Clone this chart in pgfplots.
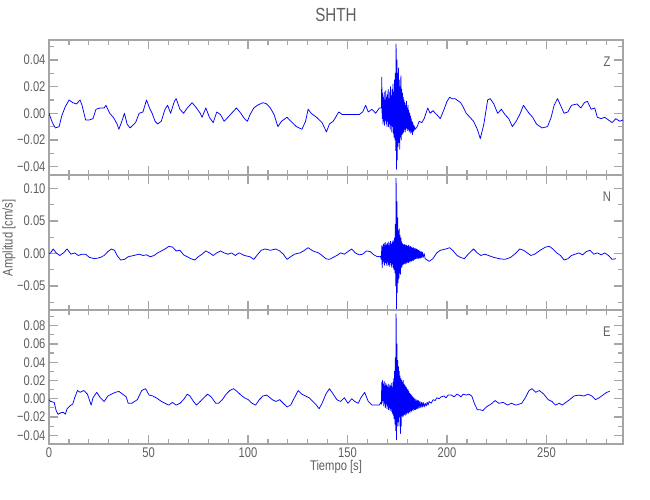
\documentclass[border=0pt]{standalone}
\usepackage{fontspec}
\setmainfont{Liberation Sans}[FakeStretch=0.8]
\usepackage{pgfplots}
\pgfplotsset{compat=1.18}
\definecolor{axgray}{RGB}{165,165,165}
\definecolor{txtgray}{RGB}{95,95,95}
\definecolor{trace}{RGB}{0,0,255}
\pgfplotsset{seis/.style={
  scale only axis, width=574pt, height=135pt, anchor=south west,
  xmin=0, xmax=288.4, no markers, scaled y ticks=false, scaled x ticks=false,
  xtick={0,50,100,150,200,250},
  minor xtick={10,20,30,40,60,70,80,90,110,120,130,140,160,170,180,190,210,220,230,240,260,270,280},
  axis line style={axgray, line width=1.5pt},
  tick style={axgray, line width=1.2pt},
  major tick length=9pt, minor tick length=5pt,
  tick align=inside,
  ticklabel style={font=\fontsize{14}{14}\selectfont, text=txtgray},
  xticklabels={},
  every axis plot/.append style={trace, line width=0.75pt, line join=round, mark=none},
}}
\begin{document}
\begin{tikzpicture}
\path[use as bounding box] (0,0) rectangle (650pt,500pt);
% ---------------- Z ----------------
\begin{axis}[seis, at={(49pt,325pt)}, height=135pt,
  ymin=-0.0463, ymax=0.055,
  ytick={-0.04,-0.02,0,0.02,0.04}, yticklabels={−0.04,−0.02,0.00,0.02,0.04},
  minor ytick={-0.03,-0.01,0.01,0.03,0.05}]
\addplot coordinates {
(0,0.000)(1.7,-0.007)(3.2,-0.011)(5.1,-0.010)(6.4,-0.002)(8.2,0.005)(10.1,0.010)(11.9,0.008)(13.8,0.007)(15.6,0.010)(16.6,0.006)(18.4,-0.005)(20.3,-0.005)(22.1,-0.004)(23.6,0.003)(25.8,0.004)(27.7,0.004)(28.6,0.006)(30.5,0.000)(32.3,-0.003)(34.2,-0.008)(35.1,-0.012)(36.6,-0.006)(37.9,0.000)(39.2,-0.008)(40.7,-0.011)(43.5,-0.007)(45.3,0.000)(47.2,0.001)(49.0,0.010)(50.5,0.004)(51.8,0.000)(53.3,-0.006)(54.6,-0.008)(56.4,-0.006)(58.3,0.003)(59.6,0.006)(61.1,0.000)(63.0,0.009)(63.9,0.011)(65.8,0.003)(67.6,0.000)(69.5,0.004)(71.9,0.008)(74.1,0.004)(76.0,0.000)(76.9,-0.003)(78.8,0.004)(80.6,-0.003)(82.5,-0.007)(84.3,0.001)(86.2,-0.001)(88.0,-0.006)(89.9,-0.003)(91.7,0.000)(94.2,0.004)(96.4,0.000)(98.2,-0.004)(99.7,-0.006)(101.0,-0.001)(102.9,0.004)(104.7,0.006)(107.5,0.008)(109.4,0.007)(111.2,0.004)(113.1,-0.001)(115.0,-0.010)(116.8,-0.006)(119.6,-0.003)(121.5,-0.006)(124.3,-0.010)(127.1,-0.012)(128.9,-0.006)(130.2,0.003)(131.7,0.000)(134.4,-0.003)(137.2,-0.007)(139.4,-0.014)(140.9,-0.008)(142.8,-0.006)(145.6,0.001)(147.4,-0.001)(150.2,-0.001)(153.0,-0.001)(155.8,-0.001)(157.6,0.001)(159.1,0.006)(160.4,0.001)(162.3,0.003)(164.1,0.000)(166.0,0.004)
(167.0,0.004)(167.2,0.027)(167.4,-0.004)(167.6,0.015)(167.8,-0.008)(168.0,0.012)(168.2,-0.006)(168.4,0.016)(168.6,-0.009)(168.8,0.010)(169.0,-0.005)(169.2,0.017)(169.4,-0.008)(169.6,0.012)(169.8,-0.010)(170.0,0.014)(170.2,-0.006)(170.4,0.018)(170.6,-0.010)(170.8,0.011)(171.0,-0.008)(171.2,0.016)(171.4,-0.012)(171.6,0.020)(171.8,-0.009)(172.0,0.013)(172.2,-0.014)(172.4,0.018)(172.6,-0.010)(172.8,0.022)(173.0,-0.015)(173.2,0.016)(173.4,-0.018)(173.6,0.025)(173.8,-0.020)(174.0,0.030)(174.2,-0.028)(174.4,0.052)(174.6,-0.042)(174.8,0.040)(175.0,-0.035)(175.2,0.030)(175.4,-0.025)(175.6,0.034)(175.8,-0.022)(176.0,0.025)(176.2,-0.027)(176.4,0.020)(176.6,-0.018)(176.8,0.028)(177.0,-0.020)(177.2,0.018)(177.4,-0.016)(177.6,0.015)(177.8,-0.015)(178.0,0.012)(178.2,-0.014)(178.4,0.010)(178.6,-0.012)(178.8,0.008)(179.0,-0.014)(179.2,0.006)(179.4,-0.012)(179.6,0.009)(179.8,-0.011)(180.0,0.004)(180.2,-0.013)(180.4,0.006)(180.6,-0.012)(180.8,0.002)(181.0,-0.014)(181.2,0.000)(181.4,-0.013)(181.6,-0.002)(181.8,-0.015)(182.0,-0.004)(182.2,-0.014)(182.4,-0.006)(182.6,-0.016)(182.8,-0.007)(183.0,-0.014)(183.2,-0.009)(183.4,-0.013)(183.6,-0.010)
(184.0,-0.012)(185.0,-0.010)(186.0,-0.006)(187.3,-0.007)(188.5,-0.004)(190.3,0.004)(191.5,0.000)(192.9,0.002)(194.8,-0.001)(196.6,-0.004)(198.5,0.003)(200.0,0.009)(201.3,0.012)(202.5,0.011)(204.0,0.011)(206.8,0.008)(208.0,0.005)(209.6,0.000)(211.5,-0.003)(213.3,-0.006)(215.2,-0.012)(216.7,-0.019)(218.5,-0.008)(220.4,0.010)(221.7,0.011)(223.5,0.007)(225.4,0.000)(227.3,0.003)(229.1,-0.001)(231.0,-0.004)(232.8,-0.010)(234.7,-0.006)(236.5,-0.001)(238.4,0.006)(239.3,0.004)(241.2,0.000)(243.0,-0.003)(244.9,-0.008)(247.7,-0.011)(250.5,-0.010)(252.3,-0.003)(253.8,0.006)(255.5,0.011)(257.0,0.006)(258.8,0.000)(260.7,0.001)(262.5,0.006)(265.3,0.007)(267.2,0.004)(269.0,0.008)(270.5,0.009)(272.4,0.003)(274.2,0.004)(275.5,-0.003)(277.4,-0.004)(279.2,-0.003)(281.1,-0.005)(282.9,-0.007)(284.8,-0.004)(286.7,-0.006)(288.4,-0.005)
};
\node[text=txtgray, font=\fontsize{14}{14}\selectfont] at (rel axis cs:0.972,0.839) {Z};
\end{axis}
% ---------------- N ----------------
\begin{axis}[seis, at={(49pt,190pt)}, height=135pt,
  ymin=-0.087, ymax=0.121,
  ytick={-0.05,0,0.05,0.1}, yticklabels={−0.05,0.00,0.05,0.10},
  minor ytick={-0.075,-0.025,0.025,0.075}]
\addplot coordinates {
(0,0.000)(0.8,0.001)(2.1,0.007)(3.6,0.001)(5.4,-0.003)(7.3,0.001)(9.1,0.007)(11.0,-0.001)(12.9,0.001)(14.7,-0.003)(16.6,-0.001)(18.4,-0.001)(20.3,-0.006)(23.1,-0.008)(25.8,-0.006)(27.7,-0.003)(29.6,0.003)(31.4,0.007)(32.9,0.005)(34.2,-0.003)(36.0,-0.010)(37.9,-0.009)(39.8,-0.005)(42.6,-0.003)(45.3,-0.001)(47.2,-0.003)(49.0,-0.002)(50.9,-0.005)(52.8,-0.003)(54.6,0.001)(56.5,0.004)(58.3,0.007)(60.2,0.011)(62.0,0.010)(63.9,0.004)(65.8,0.005)(67.6,-0.002)(69.5,-0.005)(71.3,-0.008)(73.2,-0.010)(75.0,-0.005)(76.9,-0.001)(78.8,0.004)(80.6,0.001)(82.5,-0.003)(84.3,0.001)(86.2,0.004)(88.0,0.001)(89.9,-0.001)(91.7,0.001)(93.6,-0.003)(95.5,0.001)(98.2,-0.003)(101.0,-0.005)(102.9,-0.009)(104.7,-0.002)(106.6,0.005)(108.5,0.007)(111.2,0.005)(114.0,0.007)(115.9,0.004)(117.7,-0.001)(119.6,-0.009)(121.4,-0.005)(123.3,-0.001)(126.1,0.001)(127.9,0.004)(130.2,0.009)(132.6,0.004)(135.4,0.001)(137.2,-0.003)(139.1,-0.008)(140.9,-0.009)(142.8,-0.006)(144.6,-0.003)(146.5,0.001)(148.4,-0.001)(150.2,0.003)(152.1,0.007)(153.9,0.001)(155.8,-0.002)(157.6,-0.001)(159.5,0.004)(161.4,0.003)(163.2,-0.002)(165.1,-0.005)(166.5,-0.004)
(167.0,-0.009)(167.2,0.012)(167.4,-0.022)(167.6,0.010)(167.8,-0.015)(168.0,0.014)(168.2,-0.012)(168.4,0.016)(168.6,-0.018)(168.8,0.012)(169.0,-0.014)(169.2,0.017)(169.4,-0.016)(169.6,0.013)(169.8,-0.019)(170.0,0.015)(170.2,-0.013)(170.4,0.018)(170.6,-0.017)(170.8,0.012)(171.0,-0.020)(171.2,0.016)(171.4,-0.014)(171.6,0.019)(171.8,-0.018)(172.0,0.014)(172.2,-0.021)(172.4,0.017)(172.6,-0.016)(172.8,0.020)(173.0,-0.022)(173.2,0.018)(173.4,-0.025)(173.6,0.024)(173.8,-0.030)(174.0,0.045)(174.2,-0.050)(174.4,0.116)(174.6,-0.085)(174.8,0.080)(175.0,-0.060)(175.2,0.055)(175.4,-0.045)(175.6,0.035)(175.8,-0.038)(176.0,0.038)(176.2,-0.030)(176.4,0.028)(176.6,-0.032)(176.8,0.024)(177.0,-0.022)(177.2,0.018)(177.4,-0.020)(177.6,0.015)(177.8,-0.017)(178.0,0.014)(178.2,-0.016)(178.4,0.013)(178.6,-0.015)(178.8,0.014)(179.0,-0.016)(179.2,0.012)(179.4,-0.014)(179.6,0.013)(179.8,-0.015)(180.0,0.011)(180.2,-0.013)(180.4,0.012)(180.6,-0.014)(180.8,0.013)(181.0,-0.012)(181.2,0.010)(181.4,-0.013)(181.6,0.011)(181.8,-0.011)(182.0,0.009)(182.2,-0.012)(182.4,0.010)(182.6,-0.010)(182.8,0.008)(183.0,-0.011)(183.2,0.009)(183.4,-0.009)(183.6,0.007)(183.8,-0.009)(184.0,0.008)(184.3,-0.008)(184.6,0.007)(184.9,-0.008)(185.2,0.006)(185.5,-0.008)(185.8,0.005)(186.1,-0.007)(186.4,0.004)(186.7,-0.007)(187.0,0.003)(187.3,-0.006)(187.6,0.002)(188.0,-0.006)(188.5,0.000)(189.0,-0.008)(190.0,-0.010)
(191.0,-0.012)(192.9,-0.008)(194.8,0.001)(196.6,0.005)(199.4,0.007)(201.3,0.009)(203.1,0.004)(205.0,-0.003)(206.8,-0.006)(208.7,-0.008)(210.6,-0.001)(213.3,0.007)(215.2,0.001)(217.0,-0.003)(218.9,-0.001)(220.8,-0.003)(223.5,-0.006)(226.3,-0.008)(229.1,-0.009)(231.9,-0.006)(234.7,0.001)(236.5,0.007)(238.4,0.005)(240.3,0.001)(242.1,-0.003)(244.0,-0.001)(246.8,0.005)(249.5,0.010)(251.4,0.011)(253.2,0.007)(255.1,0.001)(257.0,-0.003)(258.8,-0.010)(260.7,-0.008)(262.5,-0.003)(264.4,-0.001)(266.2,0.001)(268.1,-0.002)(270.0,0.003)(271.8,0.005)(273.7,-0.001)(275.5,0.001)(277.4,-0.002)(279.2,0.001)(281.1,-0.003)(282.9,-0.009)(284.8,-0.008)
};
\node[text=txtgray, font=\fontsize{14}{14}\selectfont] at (rel axis cs:0.972,0.837) {N};
\end{axis}
% ---------------- E ----------------
\begin{axis}[seis, at={(49pt,56pt)}, height=134pt,
  ymin=-0.0496, ymax=0.0972,
  ytick={-0.04,-0.02,0,0.02,0.04,0.06,0.08}, yticklabels={−0.04,−0.02,0.00,0.02,0.04,0.06,0.08},
  minor ytick={-0.03,-0.01,0.01,0.03,0.05,0.07,0.09},
  xticklabels={0,50,100,150,200,250}]
\addplot coordinates {
(0,-0.001)(0.8,-0.003)(2.6,-0.004)(3.6,-0.013)(4.5,-0.017)(6.4,-0.015)(7.3,-0.015)(8.2,-0.017)(9.1,-0.011)(11.0,-0.007)(11.9,-0.006)(12.9,0.001)(14.3,0.009)(15.6,0.007)(17.5,0.009)(19.3,0.005)(21.2,-0.007)(22.1,0.001)(24.0,0.007)(25.8,0.001)(27.7,-0.003)(29.6,0.003)(31.4,0.005)(33.3,0.007)(35.1,0.008)(37.0,0.005)(38.8,0.002)(39.8,-0.005)(41.6,-0.005)(44.4,-0.001)(46.6,0.009)(48.5,0.011)(50.3,0.004)(52.2,0.003)(54.6,0.000)(56.5,-0.003)(58.3,-0.005)(60.2,-0.007)(62.0,-0.004)(63.9,-0.007)(65.8,-0.005)(67.6,-0.001)(69.5,0.005)(70.8,0.003)(72.6,-0.003)(74.1,-0.007)(76.0,-0.003)(77.8,0.001)(79.7,0.005)(81.5,0.002)(83.8,-0.005)(85.2,-0.005)(87.1,-0.001)(89.0,0.005)(90.8,0.009)(92.7,0.011)(94.5,0.008)(96.4,0.004)(98.2,0.001)(100.1,-0.001)(102.0,-0.005)(103.8,-0.007)(105.7,-0.001)(107.5,0.003)(109.4,0.004)(112.2,-0.001)(114.0,-0.003)(115.9,-0.001)(117.7,-0.005)(119.6,-0.009)(121.4,-0.007)(123.3,0.001)(125.2,0.009)(127.0,0.005)(128.9,0.003)(130.7,0.001)(132.6,-0.003)(134.4,-0.007)(135.7,-0.011)(137.2,-0.005)(139.1,0.005)(140.9,0.011)(142.8,0.005)(144.6,-0.001)(146.5,-0.003)(148.4,0.001)(150.2,-0.005)(152.1,0.000)(153.6,-0.003)(155.4,-0.005)(156.7,0.001)(158.6,0.007)(160.4,-0.003)(162.3,-0.007)(164.1,-0.007)(166.0,-0.007)(166.7,-0.004)
(167.0,-0.006)(167.2,0.018)(167.4,-0.004)(167.6,0.020)(167.8,-0.002)(168.0,0.016)(168.2,-0.008)(168.4,0.019)(168.6,-0.005)(168.8,0.014)(169.0,-0.010)(169.2,0.017)(169.4,-0.006)(169.6,0.015)(169.8,-0.011)(170.0,0.013)(170.2,-0.008)(170.4,0.016)(170.6,-0.012)(170.8,0.012)(171.0,-0.010)(171.2,0.015)(171.4,-0.013)(171.6,0.014)(171.8,-0.011)(172.0,0.017)(172.2,-0.014)(172.4,0.012)(172.6,-0.016)(172.8,0.018)(173.0,-0.018)(173.2,0.022)(173.4,-0.022)(173.6,0.030)(173.8,-0.028)(174.0,0.045)(174.2,-0.035)(174.4,0.093)(174.6,-0.045)(174.8,0.060)(175.0,-0.030)(175.2,0.042)(175.4,-0.025)(175.6,0.035)(175.8,-0.030)(176.0,0.030)(176.2,-0.020)(176.4,0.025)(176.6,-0.038)(176.8,0.022)(177.0,-0.030)(177.2,0.020)(177.4,-0.018)(177.6,0.018)(177.8,-0.020)(178.0,0.020)(178.2,-0.018)(178.4,0.016)(178.6,-0.017)(178.8,0.015)(179.0,-0.018)(179.2,0.013)(179.4,-0.016)(179.6,0.012)(179.8,-0.017)(180.0,0.010)(180.2,-0.015)(180.4,0.010)(180.6,-0.016)(180.8,0.008)(181.0,-0.014)(181.2,0.006)(181.4,-0.015)(181.6,0.005)(181.8,-0.013)(182.0,0.004)(182.2,-0.014)(182.4,0.003)(182.6,-0.012)(182.8,0.002)(183.0,-0.013)(183.3,0.001)(183.6,-0.012)(183.9,0.000)(184.2,-0.012)(184.5,-0.001)(184.8,-0.011)(185.1,-0.002)(185.4,-0.011)(185.7,-0.002)(186.0,-0.010)(186.4,-0.003)(186.8,-0.010)(187.2,-0.004)(187.6,-0.009)(188.0,-0.004)(188.5,-0.009)(189.0,-0.005)(189.5,-0.008)(190.0,-0.004)(190.5,-0.007)
(191.0,-0.003)(192.0,-0.005)(193.0,-0.001)(194.0,-0.002)(194.8,0.001)(196.0,0.000)(197.0,0.002)(198.5,0.003)(199.5,0.001)(200.5,0.004)(202.2,0.004)(203.5,0.002)(205.0,0.005)(205.9,0.004)(207.0,0.002)(208.0,0.005)(209.6,0.004)(211.0,0.005)(212.4,0.003)(213.7,-0.005)(215.2,-0.012)(216.5,-0.012)(218.0,-0.013)(219.8,-0.009)(222.6,-0.005)(224.1,-0.002)(226.0,-0.005)(228.2,-0.004)(230.4,-0.007)(232.3,-0.005)(234.7,-0.007)(237.5,-0.005)(239.3,0.001)(241.2,0.009)(242.7,0.011)(244.5,0.007)(246.4,0.009)(248.6,0.005)(250.8,-0.001)(252.7,-0.003)(254.5,-0.007)(256.4,-0.005)(257.9,-0.007)(259.7,-0.004)(261.6,-0.001)(263.8,0.003)(266.2,0.004)(268.7,0.003)(270.9,0.005)(272.7,0.003)(274.6,-0.001)(276.4,0.001)(278.3,0.004)(280.2,0.007)(281.7,0.008)
};
\node[text=txtgray, font=\fontsize{14}{14}\selectfont] at (rel axis cs:0.972,0.838) {E};
\end{axis}
\node[text=txtgray, font=\fontsize{19}{19}\selectfont] at (336pt,485pt) {SHTH};
\node[text=txtgray, font=\fontsize{14}{14}\selectfont] at (336pt,33pt) {Tiempo [s]};
\node[text=txtgray, font=\fontsize{14}{14}\selectfont, rotate=90] at (9pt,262pt) {Amplitud [cm/s]};
\end{tikzpicture}
\end{document}
